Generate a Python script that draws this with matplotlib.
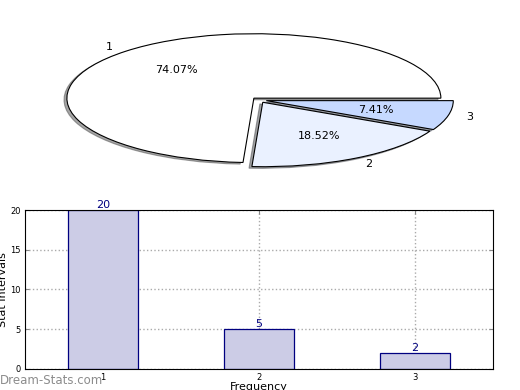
import matplotlib
matplotlib.use("Agg")
import matplotlib.pyplot as plt

# data
categories = ["1", "2", "3"]
freqs = [20, 5, 2]
pie_colors = ["#ffffff", "#eaf1ff", "#c6d9ff"]
bar_face = "#ccccE6"
bar_edge = "#000080"

fig = plt.figure(figsize=(5.2, 3.9), dpi=100)

# pie on top, squashed into an ellipse
ax1 = fig.add_axes([0.0486, 0.537, 0.899, 0.413])
wedges, texts, autotexts = ax1.pie(
    freqs, labels=categories, colors=pie_colors, explode=[0.04, 0.04, 0.04],
    autopct="%.2f%%", shadow={"ox": -0.011, "oy": -0.018},
    wedgeprops=dict(edgecolor="black", linewidth=0.8),
    textprops=dict(fontsize=8))
ax1.set_aspect("auto")
ax1.set_xlim(-1.25, 1.25)
ax1.set_ylim(-1.25, 1.25)

# bar chart below
ax2 = fig.add_axes([0.048, 0.054, 0.9, 0.4075])
x = list(range(1, len(freqs) + 1))
bars = ax2.bar(x, freqs, width=0.45, color=bar_face, edgecolor=bar_edge, linewidth=0.9, zorder=2)
for xi, v in zip(x, freqs):
    ax2.text(xi, v, str(v), ha="center", va="bottom", fontsize=8, color=bar_edge)
ax2.set_xlim(0.5, 3.5)
ax2.set_ylim(0, 20)
ax2.set_xticks(x)
ax2.set_xticklabels(categories)
ax2.set_yticks([0, 5, 10, 15, 20])
ax2.tick_params(labelsize=6, direction="in", top=True, right=True, length=3, color="#888888", pad=3)
ax2.grid(True, linestyle=":", color="#aaaaaa", linewidth=1, zorder=0)
ax2.set_axisbelow(True)
ax2.set_ylabel("Stat Intervals", fontsize=8, labelpad=2)
ax2.set_xlabel("Frequency", fontsize=8, labelpad=0)

fig.text(0.0, 0.008, "Dream-Stats.com", fontsize=8.5, color="#8c8c8c", ha="left", va="bottom")

fig.savefig("out.png", dpi=100)
